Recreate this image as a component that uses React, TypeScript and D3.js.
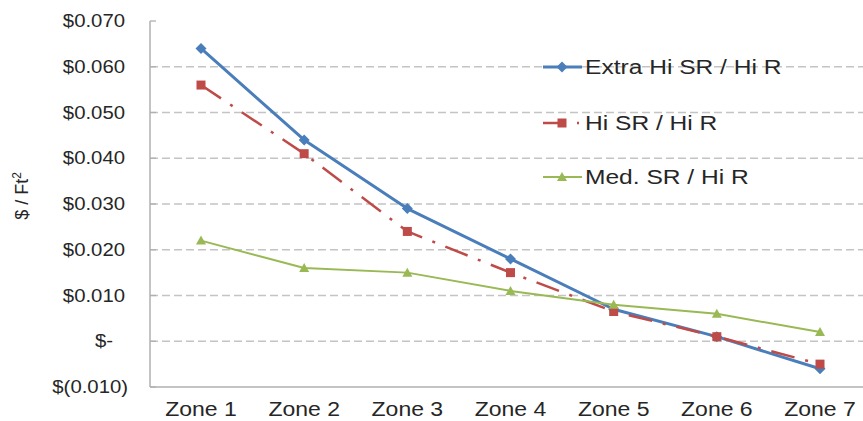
import React from "react";
import * as d3 from "d3";

const zones = ["Zone 1", "Zone 2", "Zone 3", "Zone 4", "Zone 5", "Zone 6", "Zone 7"];
const extraHi = [0.064, 0.044, 0.029, 0.018, 0.007, 0.001, -0.006];
const hiSR = [0.056, 0.041, 0.024, 0.015, 0.0065, 0.001, -0.005];
const medSR = [0.022, 0.016, 0.015, 0.011, 0.008, 0.006, 0.002];
const yTicks = [0.07, 0.06, 0.05, 0.04, 0.03, 0.02, 0.01, 0, -0.01];
const seriesNames = ["Extra Hi SR / Hi R", "Hi SR / Hi R", "Med. SR / Hi R"];

const W = 863, H = 421;
const left = 150, right = 863, top = 21, bottom = 387;
const FONT = "'Liberation Sans', Arial, sans-serif";
const TXT = "#262626";

function fmt(v: number) {
  if (Math.abs(v) < 1e-9) return "$-";
  if (v < 0) return `$(${Math.abs(v).toFixed(3)})`;
  return `$${v.toFixed(3)}`;
}

export default function App() {
  const x = d3.scalePoint<string>().domain(zones).range([201, 820]);
  const y = d3.scaleLinear().domain([-0.01, 0.07]).range([bottom, top]);

  const line = d3.line<number>().x((_, i) => x(zones[i])!).y((d) => y(d));

  const series = [
    { name: seriesNames[0], data: extraHi, color: "#4a7ebb", width: 3, dash: undefined as string | undefined, marker: "diamond" },
    { name: seriesNames[1], data: hiSR, color: "#be4b48", width: 2.5, dash: "24,11,3,11", marker: "square" },
    { name: seriesNames[2], data: medSR, color: "#98b954", width: 2, dash: undefined, marker: "triangle" },
  ];

  const marker = (type: string, cx: number, cy: number, color: string, key: string) => {
    if (type === "diamond") {
      const s = 5.5;
      return <path key={key} d={`M${cx},${cy - s}L${cx + s},${cy}L${cx},${cy + s}L${cx - s},${cy}Z`} fill={color} />;
    }
    if (type === "square") {
      const s = 4.5;
      return <rect key={key} x={cx - s} y={cy - s} width={2 * s} height={2 * s} fill={color} />;
    }
    const s = 5;
    return <path key={key} d={`M${cx},${cy - s}L${cx + s},${cy + s * 0.8}L${cx - s},${cy + s * 0.8}Z`} fill={color} />;
  };

  const legendY = [67, 123, 177];

  return (
    <svg width={W} height={H} style={{ position: "absolute", left: 0, top: 0, background: "#fff" }}>
      <rect width={W} height={H} fill="#fff" />
      {yTicks.filter((t) => t < 0.069 && t > -0.009).map((t) => (
        <line key={"g" + t} x1={left} x2={right} y1={y(t)} y2={y(t)} stroke="#c4c4c4" strokeWidth={1.3} strokeDasharray="8,4" />
      ))}
      {yTicks.map((t) => (
        <line key={"t" + t} x1={left} x2={left + 6} y1={y(t)} y2={y(t)} stroke="#b0b0b0" strokeWidth={1.3} />
      ))}
      <line x1={left} x2={left} y1={top} y2={bottom} stroke="#b0b0b0" strokeWidth={1.5} />
      <line x1={left} x2={right} y1={bottom} y2={bottom} stroke="#b0b0b0" strokeWidth={1.5} />
      {yTicks.map((t) => {
        const label = fmt(t);
        const xr = t < 0 ? 128 : Math.abs(t) < 1e-9 ? 113 : 125;
        return (
          <text key={"l" + t} transform={`translate(${xr},${y(t)}) scale(1.13,1)`} textAnchor="end" dominantBaseline="central"
            fontFamily={FONT} fontSize={18} fill={TXT}>{label}</text>
        );
      })}
      <text transform={`translate(28,196) rotate(-90)`} textAnchor="middle" fontFamily={FONT} fontSize={18} fill={TXT}>
        $ / Ft<tspan dy={-7} fontSize={12}>2</tspan>
      </text>
      {zones.map((z) => (
        <text key={z} transform={`translate(${x(z)},416) scale(1.18,1)`} textAnchor="middle" fontFamily={FONT} fontSize={19.5} fill={TXT}>{z}</text>
      ))}
      {series.map((s) => (
        <g key={s.name}>
          <path d={line(s.data) || ""} fill="none" stroke={s.color} strokeWidth={s.width} strokeDasharray={s.dash} strokeLinejoin="round" />
          {s.data.map((v, i) => marker(s.marker, x(zones[i])!, y(v), s.color, s.name + i))}
        </g>
      ))}
      {series.map((s, i) => (
        <g key={"lg" + i}>
          {s.dash ? (
            <g>
              <line x1={543} x2={562} y1={legendY[i]} y2={legendY[i]} stroke={s.color} strokeWidth={s.width} />
              <line x1={577} x2={579} y1={legendY[i]} y2={legendY[i]} stroke={s.color} strokeWidth={s.width} />
            </g>
          ) : (
            <line x1={543} x2={582} y1={legendY[i]} y2={legendY[i]} stroke={s.color} strokeWidth={s.width} />
          )}
          {marker(s.marker, 562, legendY[i], s.color, "lm" + i)}
          <text transform={`translate(585,${legendY[i]}) scale(1.17,1)`} dominantBaseline="central" fontFamily={FONT} fontSize={21} fill={TXT}>{s.name}</text>
        </g>
      ))}
    </svg>
  );
}
